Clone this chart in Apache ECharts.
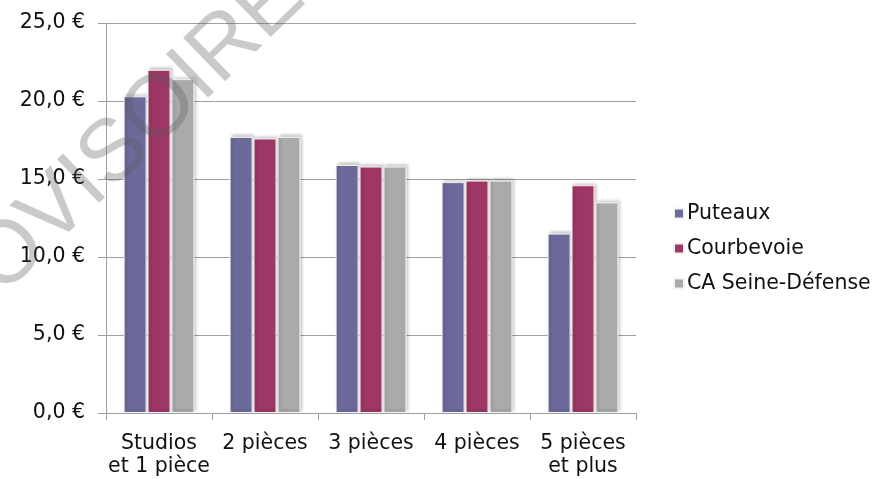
<!DOCTYPE html>
<html style="height: 100%">
<head>
  <meta charset="UTF-8" />
  <title>Loyers par type de logement</title>
  <script src="https://cdn.jsdelivr.net/npm/echarts@6/dist/echarts.min.js"></script>
  <style>
    body { margin: 0; background: #fff; }
    #main { width: 878px; height: 479px; }
  </style>
</head>
<body>
  <div id="main"></div>
  <script>
    const categories = ['Studios\net 1 pièce', '2 pièces', '3 pièces', '4 pièces', '5 pièces\net plus'];
    const puteaux = [20.3, 17.7, 15.9, 14.8, 11.5];
    const courbevoie = [22.0, 17.6, 15.8, 14.9, 14.6];
    const caSeineDefense = [21.4, 17.7, 15.8, 14.9, 13.5];
    const yTicks = { min: 0, max: 25, interval: 5 };

    const font = 'DejaVu Sans, Verdana, sans-serif';
    const fs = 20.5;
    const chart = echarts.init(document.getElementById('main'));

    function barSeries(name, data, color) {
      return {
        name: name,
        type: 'bar',
        data: data,
        barWidth: 23,
        barGap: '4%',
        itemStyle: {
          color: color,
          borderColor: '#f4f4f4',
          borderWidth: 1,
          shadowColor: 'rgba(0,0,0,0.2)',
          shadowBlur: 3,
          shadowOffsetX: 2,
          shadowOffsetY: -2
        }
      };
    }

    chart.setOption({
      animation: false,
      grid: { left: 106, right: 242, top: 23, bottom: 66 },
      legend: {
        orient: 'vertical',
        left: 668,
        top: 198,
        itemWidth: 10,
        itemHeight: 10,
        itemGap: 14,
        icon: 'rect',
        textStyle: { fontFamily: font, fontSize: fs, color: '#111', padding: [0, 0, 0, -2] },
        data: ['Puteaux', 'Courbevoie', 'CA Seine-Défense']
      },
      xAxis: {
        type: 'category',
        data: categories,
        axisLine: { lineStyle: { color: '#a0a0a0' } },
        axisTick: { show: true, length: 7, lineStyle: { color: '#a0a0a0' } },
        axisLabel: {
          fontFamily: font, fontSize: fs, color: '#111',
          margin: 19, lineHeight: 23, interval: 0
        }
      },
      yAxis: {
        type: 'value',
        min: yTicks.min,
        max: yTicks.max,
        interval: yTicks.interval,
        axisLine: { show: true, lineStyle: { color: '#a0a0a0' } },
        axisTick: { show: true, length: 8, lineStyle: { color: '#a0a0a0' } },
        splitLine: { lineStyle: { color: '#a0a0a0' } },
        axisLabel: {
          fontFamily: font, fontSize: fs, color: '#111', margin: 21,
          formatter: v => v.toFixed(1).replace('.', ',') + ' €'
        }
      },
      series: [
        barSeries('Puteaux', puteaux, '#6b6a9b'),
        barSeries('Courbevoie', courbevoie, '#9e3666'),
        barSeries('CA Seine-Défense', caSeineDefense, '#aaaaaa')
      ],
      graphic: [{
        type: 'text',
        z: 100,
        x: 94,
        y: 174,
        rotation: 44 * Math.PI / 180,
        style: {
          text: 'PROVISOIRE',
          fontFamily: 'Liberation Sans, Arial, sans-serif',
          fontSize: 88,
          fill: 'rgba(90,90,90,0.32)',
          align: 'center',
          verticalAlign: 'middle'
        }
      }]
    });
  </script>
</body>
</html>
